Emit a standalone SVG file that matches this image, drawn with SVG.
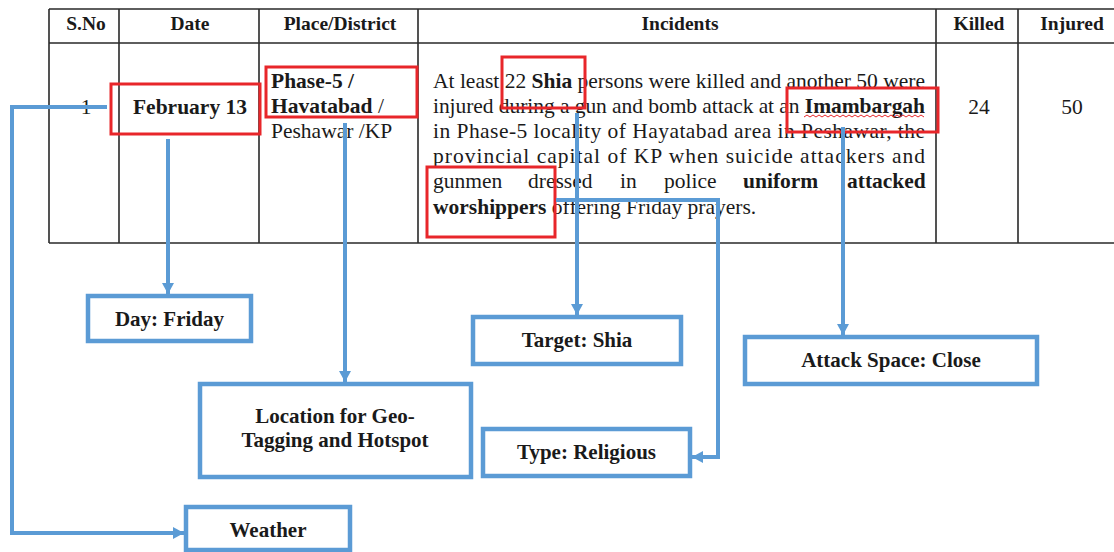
<svg xmlns="http://www.w3.org/2000/svg" width="1114" height="552" viewBox="0 0 1114 552">
<defs>
<style>
.tl{stroke:#2a2a2a;stroke-width:1.6;fill:none}
.hd{font-family:"Liberation Serif","Times New Roman",serif;font-size:19.5px;font-weight:bold;fill:#1a1a1a;text-anchor:middle}
.bd{font-family:"Liberation Serif","Times New Roman",serif;font-size:21.5px;fill:#1a1a1a}
.b{font-weight:bold}
.rb{fill:none;stroke:#e8262a;stroke-width:3}
.nb{fill:#fff;stroke:#5b9bd5;stroke-width:4.5}
.lb{font-family:"Liberation Serif","Times New Roman",serif;font-size:21px;font-weight:bold;fill:#1a1a1a;text-anchor:middle}
.cn{fill:none;stroke:#5b9bd5;stroke-width:4}
</style>
<marker id="ah" markerUnits="userSpaceOnUse" markerWidth="14" markerHeight="14" refX="11" refY="7" orient="auto">
<path d="M0,1 L11,7 L0,13 z" fill="#5b9bd5"/>
</marker>
</defs>
<rect width="1114" height="552" fill="#fff"/>
<g id="table">
<path class="tl" d="M49,9 H1114 M49,43 H1114 M49,243 H1114 M49,9 V243 M119,9 V243 M259,9 V243 M418,9 V243 M936,9 V243 M1018,9 V243"/>
<text class="hd" x="86" y="30">S.No</text>
<text class="hd" x="190" y="30">Date</text>
<text class="hd" x="340" y="30">Place/District</text>
<text class="hd" x="680" y="30">Incidents</text>
<text class="hd" x="979" y="30">Killed</text>
<text class="hd" x="1072" y="30">Injured</text>
<text class="bd" x="86" y="114" text-anchor="middle">1</text>
<text class="bd b" x="190" y="114" text-anchor="middle">February 13</text>
<text class="bd b" x="271" y="88">Phase-5 /</text>
<text class="bd" x="271" y="113"><tspan class="b">Havatabad</tspan> /</text>
<text class="bd" x="271" y="138">Peshawar /KP</text>
<text class="bd" x="433" y="88" textLength="492" lengthAdjust="spacing">At least 22 <tspan class="b">Shia</tspan> persons were killed and another 50 were</text>
<text class="bd" x="433" y="113" textLength="492" lengthAdjust="spacing">injured during a gun and bomb attack at an <tspan class="b">Imambargah</tspan></text>
<text class="bd" x="433" y="138" textLength="492" lengthAdjust="spacing">in Phase-5 locality of Hayatabad area in Peshawar, the</text>
<text class="bd" x="433" y="163" textLength="492" lengthAdjust="spacing">provincial capital of KP when suicide attackers and</text>
<text class="bd" y="188"><tspan x="433">gunmen</tspan><tspan x="528">dressed</tspan><tspan x="620">in</tspan><tspan x="664">police</tspan><tspan class="b" x="743">uniform</tspan><tspan class="b" x="847">attacked</tspan></text>
<text class="bd" x="433" y="214"><tspan class="b">worshippers</tspan> offering Friday prayers.</text>
<text class="bd" x="979" y="114" text-anchor="middle">24</text>
<text class="bd" x="1072" y="114" text-anchor="middle">50</text>
<path d="M804,117 l3,-2 l3,2 l3,-2 l3,2 l3,-2 l3,2 l3,-2 l3,2 l3,-2 l3,2 l3,-2 l3,2 l3,-2 l3,2 l3,-2 l3,2 l3,-2 l3,2 l3,-2 l3,2 l3,-2 l3,2 l3,-2 l3,2 l3,-2 l3,2 l3,-2 l3,2 l3,-2 l3,2 l3,-2 l3,2 l3,-2 l3,2 l3,-2 l3,2 l3,-2 l3,2 l3,-2 l3,2" fill="none" stroke="#e8262a" stroke-width="1"/>
</g>
<g id="highlights">
<rect class="rb" x="111" y="84" width="149" height="50"/>
<rect class="rb" x="266" y="67" width="151" height="50"/>
<rect class="rb" x="502" y="57" width="83" height="51"/>
<rect class="rb" x="787" y="88" width="151" height="44"/>
<rect class="rb" x="427" y="167" width="128" height="70"/>
</g>
<g id="connectors">
<path class="cn" d="M107,107 H12 V533 H184" marker-end="url(#ah)"/>
<path class="cn" d="M168,139 V294" marker-end="url(#ah)"/>
<path class="cn" d="M345,123 V382" marker-end="url(#ah)"/>
<path class="cn" d="M577,113 V315" marker-end="url(#ah)"/>
<path class="cn" d="M556,200 H718 V457 H692" marker-end="url(#ah)"/>
<path class="cn" d="M843,127 V335" marker-end="url(#ah)"/>
</g>
<g id="node-day">
<rect class="nb" x="88" y="296" width="163" height="45"/>
<text class="lb" x="169.5" y="326">Day: Friday</text>
</g>
<g id="node-location">
<rect class="nb" x="200" y="384" width="271" height="93"/>
<text class="lb" x="335" y="423">Location for Geo-</text>
<text class="lb" x="335" y="447">Tagging and Hotspot</text>
</g>
<g id="node-weather">
<rect class="nb" x="186" y="507" width="164" height="43"/>
<text class="lb" x="268" y="537">Weather</text>
</g>
<g id="node-target">
<rect class="nb" x="473" y="317" width="208" height="47"/>
<text class="lb" x="577" y="347">Target: Shia</text>
</g>
<g id="node-type">
<rect class="nb" x="483" y="429" width="207" height="47"/>
<text class="lb" x="586.5" y="459">Type: Religious</text>
</g>
<g id="node-attack">
<rect class="nb" x="745" y="337" width="292" height="47"/>
<text class="lb" x="891" y="367">Attack Space: Close</text>
</g>
</svg>
